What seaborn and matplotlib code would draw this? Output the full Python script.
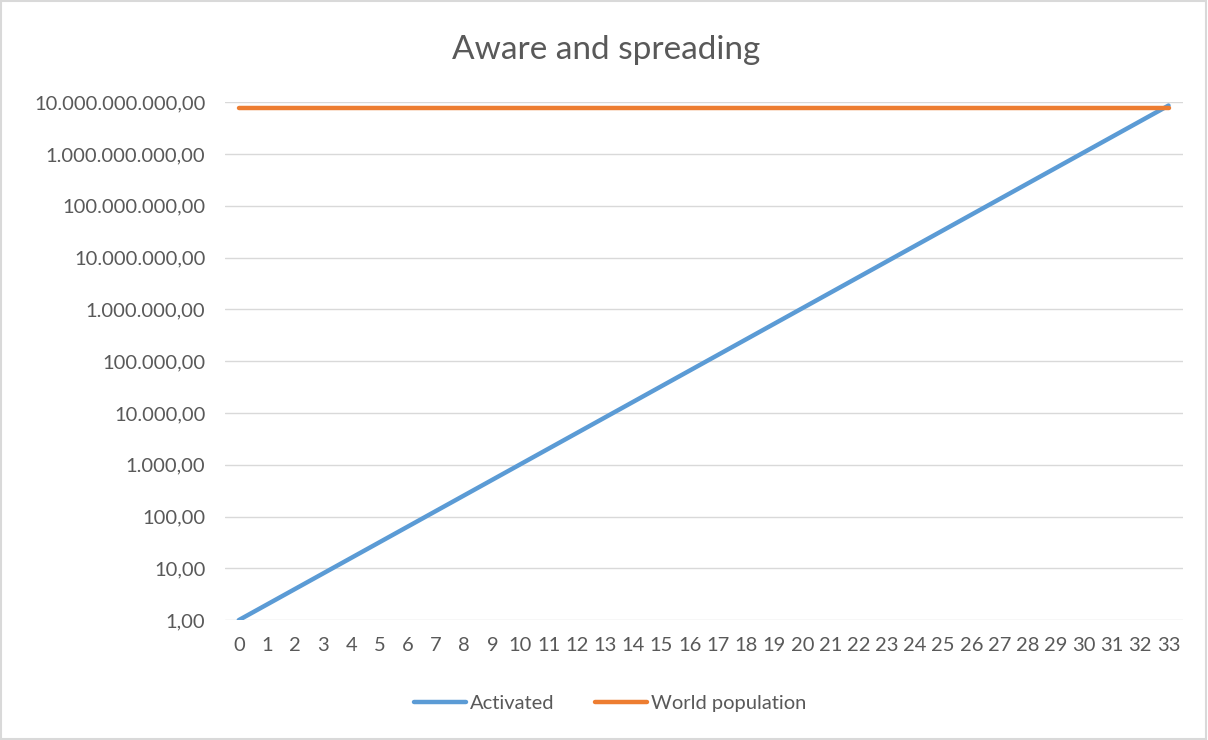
import matplotlib
matplotlib.use("Agg")
import matplotlib.pyplot as plt
import matplotlib.ticker as mticker
from matplotlib.patches import Rectangle
import seaborn as sns
import pandas as pd

# Data
steps = list(range(34))
activated = [
    1, 2, 4, 8, 16, 32, 64, 128, 256, 512,
    1024, 2048, 4096, 8192, 16384, 32768, 65536, 131072, 262144, 524288,
    1048576, 2097152, 4194304, 8388608, 16777216, 33554432, 67108864,
    134217728, 268435456, 536870912, 1073741824, 2147483648, 4294967296,
    8589934592,
]
world_population = [7.6e9] * 34
series_names = ["Activated", "World population"]
series_colors = ["#5B9BD5", "#ED7D31"]
y_ticks = [10 ** k for k in range(11)]

df = pd.concat([
    pd.DataFrame({"step": steps, "value": activated, "series": series_names[0]}),
    pd.DataFrame({"step": steps, "value": world_population, "series": series_names[1]}),
])

sns.set_style("white")
plt.rcParams["font.family"] = ["Lato", "DejaVu Sans"]

text_color = "#595959"
fig = plt.figure(figsize=(12.08, 7.4), dpi=100)
ax = fig.add_axes([0.186, 0.162, 0.793, 0.700])

sns.lineplot(data=df, x="step", y="value", hue="series", palette=series_colors,
             linewidth=3.2, ax=ax, legend=True)

ax.set_yscale("log")
ax.set_ylim(1, 1e10)
ax.set_xlim(-0.5, 33.5)
ax.set_yticks(y_ticks)
ax.yaxis.set_minor_locator(mticker.NullLocator())


def fmt(v, pos):
    s = f"{int(round(v)):,}".replace(",", ".")
    return s + ",00"


ax.yaxis.set_major_formatter(mticker.FuncFormatter(fmt))
ax.set_xticks(steps)
ax.set_xticklabels([str(s) for s in steps])
ax.tick_params(axis="both", length=0, labelsize=14.5, colors=text_color)
ax.tick_params(axis="y", labelsize=14.5, pad=14)
ax.tick_params(axis="x", pad=12)
ax.grid(axis="y", color="#D9D9D9", linewidth=1)
ax.set_axisbelow(True)
for sp in ax.spines.values():
    sp.set_visible(False)
ax.set_xlabel("")
ax.set_ylabel("")

fig.text(0.502, 0.932, "Aware and spreading", ha="center", va="center",
         fontsize=24, color=text_color)

handles, labels = ax.get_legend_handles_labels()
ax.legend(handles, labels, loc="center", bbox_to_anchor=(0.505, 0.05),
          bbox_transform=fig.transFigure, ncol=2, frameon=False,
          fontsize=14.5, labelcolor=text_color, handlelength=2.6,
          handletextpad=0.2, columnspacing=2.0)

fig.patches.append(Rectangle((0.001, 0.001), 0.997, 0.997, transform=fig.transFigure,
                             fill=False, edgecolor="#D9D9D9", linewidth=1.5))

fig.savefig("out.png", dpi=100)
